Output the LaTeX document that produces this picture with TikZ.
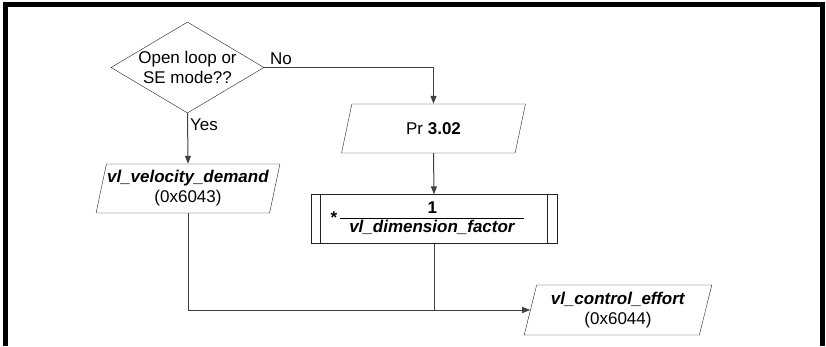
\documentclass[tikz,border=0pt]{standalone}
\usepackage{fontspec}
\setmainfont{Liberation Sans}
\usepackage{xcolor}
\usepackage{tikz}
\usetikzlibrary{
arrows.meta,
positioning,
shapes.geometric,
calc
}
\definecolor{flowline}{HTML}{404040}
\definecolor{flowedge}{HTML}{202020}

\newcommand{\objname}[1]{\textbf{\textit{#1}}}

\begin{document}
\begin{tikzpicture}[
  x=1pt, y=-1pt,
  >={Triangle[length=8pt,width=6pt]},
  every node/.style={font=\fontsize{17}{20}\selectfont, text=black},
  decision/.style={draw=flowedge, diamond, aspect=1.68,
                   minimum width=153pt, minimum height=91pt,
                   inner sep=0pt, align=center},
  iobox/.style={draw=flowedge, trapezium,
                trapezium left angle=74, trapezium right angle=106,
                trapezium stretches=true,
                minimum width=184pt, minimum height=49pt,
                inner sep=0pt, align=center},
  procbox/.style={draw=flowedge, rectangle,
                  minimum width=246pt, minimum height=49pt,
                  inner sep=0pt, align=center,
                  path picture={
                    \draw[flowedge]
                      ([xshift=9.5pt]path picture bounding box.north west) --
                      ([xshift=9.5pt]path picture bounding box.south west);
                    \draw[flowedge]
                      ([xshift=-9.5pt]path picture bounding box.north east) --
                      ([xshift=-9.5pt]path picture bounding box.south east);
                  }},
  flow/.style={->, flowline, line width=1pt},
  link/.style={flowline, line width=1pt},
  branch/.style={inner sep=2pt, font=\fontsize{17}{20}\selectfont}
]

\useasboundingbox (0,0) rectangle (826,346);

%% Frame
\draw[line width=5pt, line join=miter] (5.5,346) -- (5.5,4.5) -- (822,4.5) -- (822,346);

%% ── DECISION ────────────────────────────────────────────────
\node[decision] (mode) at (187.5, 67.5)
  {Open loop or\\SE mode??};

%% ── VELOCITY DEMAND (left) ──────────────────────────────────
\node[iobox] (veldem) at (188, 188.5)
  {\objname{vl\_velocity\_demand}\\(0x6043)};

%% ── Pr 3.02 (right branch) ──────────────────────────────────
\node[iobox] (pr302) at (433.5, 128.5)
  {Pr \textbf{3.02}};

%% ── DIMENSION FACTOR ────────────────────────────────────────
\node[procbox] (dimfac) at (434, 219)
  {\raisebox{0pt}{\textbf{*}}\hspace{3pt}%
   {\setlength{\arrayrulewidth}{1.3pt}\renewcommand{\arraystretch}{0.95}%
    \begin{tabular}{@{\hspace{9pt}}c@{\hspace{9pt}}}
      \textbf{1}\\[-1pt] \hline
      \objname{vl\_dimension\_factor}
    \end{tabular}}\hspace{13pt}};

%% ── CONTROL EFFORT (output) ─────────────────────────────────
\node[iobox, minimum width=188pt, minimum height=50pt] (effort) at (618, 310)
  {\objname{vl\_control\_effort}\\(0x6044)};

%% Connectors
\draw[flow] (mode.east) -| (pr302.north)
  node[branch, pos=0.01, anchor=south west] (nolbl) {No};
\draw[flow] (mode.south) -- (veldem.north)
  node[branch, pos=0.06, anchor=north west] (yeslbl) {Yes};
\draw[flow] (pr302.south) -- (dimfac.north);
\coordinate (merge) at (dimfac.south |- effort.west);
\draw[flow] (veldem.south) |- (effort.west);
\draw[link] (dimfac.south) -- (merge);

\end{tikzpicture}
\end{document}
